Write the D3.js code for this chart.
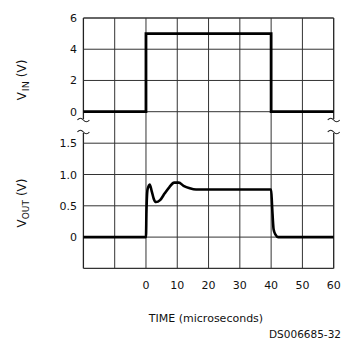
<!DOCTYPE html>
<html>
<head>
<meta charset="utf-8">
<script src="https://cdn.jsdelivr.net/npm/d3@7"></script>
<style>
 body { margin: 0; background: #fff; }
 text { font-family: "DejaVu Sans", sans-serif; fill: #111; }
</style>
</head>
<body>
<div id="chart"></div>
<script>
// tick values
const timeTicks = [0, 10, 20, 30, 40, 50, 60];
const timeGrid = [-20, -10, 0, 10, 20, 30, 40, 50, 60];
const vinTicks = [0, 2, 4, 6];
const voutTicks = [0, 0.5, 1.0, 1.5];
const voutGrid = [-0.5, 0, 0.5, 1.0, 1.5];

// waveforms [time (us), volts]
const vinWave = [[-20, 0], [0, 0], [0, 5], [40, 5], [40, 0], [60, 0]];
const voutWave = [
 [-20, 0], [0, 0], [0.15, 0.4], [0.5, 0.76], [1.2, 0.84], [1.8, 0.74],
 [2.5, 0.61], [3.2, 0.56], [4.5, 0.59], [6, 0.7], [7.5, 0.8], [9, 0.87],
 [10.5, 0.87], [12, 0.82], [14, 0.78], [16, 0.76], [40, 0.76],
 [40.3, 0.5], [40.8, 0.12], [41.4, 0.04], [42.3, 0], [60, 0]
];

const width = 342, height = 342;
const svg = d3.select("#chart").append("svg")
 .attr("width", width).attr("height", height);

const x = d3.scaleLinear().domain([-20, 60]).range([83.4, 333.7]);
const yIn = d3.scaleLinear().domain([0, 6]).range([111.7, 18]);
const yOut = d3.scaleLinear().domain([-0.5, 1.5]).range([268.4, 143.2]);

const gridTop = yIn(6), gridBottom = yOut(-0.5);
const gapTop = 119, gapBot = 133;

// vertical grid (inner lines run through the break row)
svg.append("g").selectAll("line")
 .data(timeGrid.filter(d => d > -20 && d < 60))
 .enter().append("line")
 .attr("x1", d => x(d)).attr("x2", d => x(d))
 .attr("y1", gridTop).attr("y2", gridBottom)
 .attr("stroke", "#333").attr("stroke-width", 1);

// border verticals are broken in the gap
[-20, 60].forEach(t => {
 svg.append("line").attr("x1", x(t)).attr("x2", x(t))
 .attr("y1", gridTop).attr("y2", gapTop)
 .attr("stroke", "#222").attr("stroke-width", 1.3);
 svg.append("line").attr("x1", x(t)).attr("x2", x(t))
 .attr("y1", gapBot).attr("y2", gridBottom)
 .attr("stroke", "#222").attr("stroke-width", 1.3);
 // break marks
 [gapTop + 1, gapBot - 1].forEach(yy => {
 svg.append("path")
 .attr("d", `M${x(t) - 6},${yy} q3,-3.5 6,0 t6,0`)
 .attr("fill", "none").attr("stroke", "#222").attr("stroke-width", 1.1);
 });
});

// horizontal grid
svg.append("g").selectAll("line")
 .data(vinTicks).enter().append("line")
 .attr("x1", x(-20)).attr("x2", x(60))
 .attr("y1", d => yIn(d)).attr("y2", d => yIn(d))
 .attr("stroke", "#333").attr("stroke-width", d => d === 6 ? 1.3 : 1);
svg.append("g").selectAll("line")
 .data(voutGrid).enter().append("line")
 .attr("x1", x(-20)).attr("x2", x(60))
 .attr("y1", d => yOut(d)).attr("y2", d => yOut(d))
 .attr("stroke", "#333").attr("stroke-width", d => d === -0.5 ? 1.3 : 1);

// tick labels
svg.append("g").selectAll("text")
 .data(vinTicks).enter().append("text")
 .attr("x", 77).attr("y", d => yIn(d) + 4)
 .attr("text-anchor", "end").attr("font-size", 11)
 .text(d => d);
svg.append("g").selectAll("text")
 .data(voutTicks).enter().append("text")
 .attr("x", 77).attr("y", d => yOut(d) + 4)
 .attr("text-anchor", "end").attr("font-size", 11)
 .text(d => d === 0 ? "0" : d.toFixed(1));
svg.append("g").selectAll("text")
 .data(timeTicks).enter().append("text")
 .attr("x", d => x(d)).attr("y", 289)
 .attr("text-anchor", "middle").attr("font-size", 11)
 .text(d => d);

// waveforms
const lineIn = d3.line().x(d => x(d[0])).y(d => yIn(d[1]));
const lineOut = d3.line().x(d => x(d[0])).y(d => yOut(d[1])).curve(d3.curveMonotoneX);
svg.append("path").datum(vinWave).attr("d", lineIn)
 .attr("fill", "none").attr("stroke", "#000").attr("stroke-width", 2.8);
svg.append("path").datum(voutWave).attr("d", lineOut)
 .attr("fill", "none").attr("stroke", "#000").attr("stroke-width", 2.6);

// axis titles
const tIn = svg.append("text").attr("font-size", 12).attr("text-anchor", "middle")
 .attr("transform", "translate(26,80) rotate(-90)");
tIn.append("tspan").text("V");
tIn.append("tspan").attr("font-size", 9.5).attr("dx", 1).attr("dy", 3).text("IN");
tIn.append("tspan").attr("dy", -3).attr("dx", 4).text("(V)");

const tOut = svg.append("text").attr("font-size", 12).attr("text-anchor", "middle")
 .attr("transform", "translate(26,203) rotate(-90)");
tOut.append("tspan").text("V");
tOut.append("tspan").attr("font-size", 9).attr("dy", 3).text("OUT");
tOut.append("tspan").attr("dy", -3).attr("dx", 4).text("(V)");

svg.append("text").attr("x", 206).attr("y", 322)
 .attr("text-anchor", "middle").attr("font-size", 11)
 .text("TIME (microseconds)");
svg.append("text").attr("x", 341).attr("y", 338)
 .attr("text-anchor", "end").attr("font-size", 10.5)
 .text("DS006685-32");
</script>
</body>
</html>
